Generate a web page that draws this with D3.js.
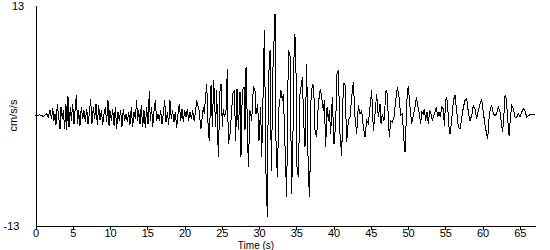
<!DOCTYPE html>
<html>
<head>
<meta charset="utf-8">
<script src="https://cdn.jsdelivr.net/npm/d3@7"></script>
<style>
  html, body { margin: 0; padding: 0; background: #fff; }
  svg { display: block; }
  text { font-family: "Liberation Sans", Arial, sans-serif; font-size: 11px; fill: #000; }
</style>
</head>
<body>
<svg id="chart" width="550" height="250"></svg>
<script>
// ---- data ----
const xTicks = [0, 5, 10, 15, 20, 25, 30, 35, 40, 45, 50, 55, 60, 65];
const xDomain = [0, 67.14];
const yDomain = [-13, 13];
const yLabels = ["13", "-13"];
const xTitle = "Time (s)";
const yTitle = "cm/s/s";

const times = [
0,0.6,1.05,1.5,1.72,1.95,2.17,2.3,2.48,2.62,2.75,2.93,3.11,3.29,3.42,3.6,3.74,3.91,4.09,4.18,
4.36,4.5,4.68,4.81,4.99,5.17,5.35,5.48,5.66,5.79,5.97,6.15,6.33,6.51,6.69,6.87,7.05,7.23,7.4,7.58,
7.76,7.94,8.12,8.3,8.48,8.66,8.84,9.02,9.19,9.37,9.55,9.73,9.87,10.0,10.18,10.36,10.54,10.72,10.89,11.07,
11.25,11.43,11.61,11.79,11.97,12.15,12.33,12.51,12.68,12.86,13.04,13.22,13.4,13.58,13.71,13.85,14.03,14.2,14.38,14.56,
14.74,14.92,15.1,15.28,15.41,15.59,15.73,15.91,16.09,16.26,16.44,16.62,16.8,16.98,17.16,17.34,17.52,17.7,17.88,18.05,
18.23,18.41,18.59,18.77,18.95,19.13,19.31,19.49,19.66,19.84,20.02,20.2,20.38,20.56,20.74,20.92,21.1,21.28,21.45,21.63,
21.95,22.21,22.53,22.65,22.98,23.2,23.33,23.56,23.74,23.92,24.18,24.32,24.54,24.77,24.9,25.08,25.2,25.35,25.57,25.75,
25.88,26.11,26.33,26.47,26.69,26.87,27.05,27.23,27.45,27.58,27.76,27.99,28.12,28.26,28.57,28.79,29.02,29.24,29.46,29.6,
29.82,30.0,30.22,30.36,30.49,30.72,30.94,31.12,31.25,31.48,31.66,31.88,32.15,32.28,32.46,32.68,32.95,33.13,33.27,33.71,
33.94,34.16,34.38,34.56,34.74,34.92,35.1,35.28,35.5,35.82,35.99,36.17,36.4,36.62,36.8,36.98,37.16,37.34,37.52,37.74,
37.96,38.23,38.41,38.63,38.77,38.95,39.13,39.31,39.44,39.62,39.84,40.07,40.29,40.47,40.65,40.87,41.1,41.32,41.54,41.77,
41.99,42.21,42.44,42.66,42.89,43.11,43.33,43.56,43.78,44.0,44.23,44.45,44.68,44.9,45.12,45.35,45.57,45.79,46.02,46.24,
46.38,46.55,46.78,47.05,47.23,47.36,47.5,47.67,47.9,48.12,48.34,48.57,48.79,49.02,49.24,49.46,49.6,49.73,49.91,50.04,
50.27,50.49,50.72,50.94,51.12,51.3,51.52,51.7,51.83,52.06,52.19,52.37,52.55,52.73,52.91,53.09,53.27,53.45,53.62,53.8,
53.98,54.16,54.34,54.52,54.74,54.88,55.06,55.19,55.33,55.51,55.64,55.86,56.09,56.31,56.53,56.76,56.98,57.2,57.43,57.65,
57.88,58.1,58.32,58.55,58.77,58.99,59.22,59.44,59.67,59.89,60.11,60.34,60.56,60.7,60.87,61.05,61.23,61.46,61.68,61.9,
62.13,62.35,62.57,62.71,62.89,63.02,63.2,63.38,63.56,63.74,63.92,64.14,64.36,64.59,64.81,65.03,65.26,65.48,65.7,65.93,
66.15,66.37,67.04
];

const accel = [
0,0.08,-0.1,0.2,-0.2,0.59,-0.39,0.91,-0.59,0.2,-1.06,1.3,-0.2,-1.58,0.99,-0.39,0.59,-1.58,1.3,-1.77,
2.25,-1.38,0.99,-0.59,1.38,-0.99,0.99,2.36,-0.99,0.59,-1.18,0.99,-0.39,0.59,-0.79,0.79,-0.99,0.2,1.97,-0.99,
0.99,-0.39,1.38,-1.06,1.18,-0.59,0.59,-1.06,0.2,0.99,-0.79,1.77,-1.18,0.59,-0.59,0.79,-1.18,0.99,-1.58,0.39,
-0.59,0.59,-1.3,0.79,-0.59,0.2,-0.79,0.39,-1.06,0.99,-1.38,0.39,-0.39,1.77,-0.59,0.59,-0.99,1.18,-1.38,0.59,
-1.46,0.99,-0.99,2.88,-0.59,0.99,-1.38,0.59,1.77,-0.59,0.2,-0.59,0.59,-0.99,0.2,1.77,-0.79,0.39,-1.06,1.77,
-0.39,0.59,-0.79,0.39,-1.46,0.2,1.38,-0.59,0.79,-0.79,0.59,-0.2,0.79,-0.59,0.39,-0.39,0.59,-0.59,0.2,1.77,
0.59,-1.58,0.99,0.2,3.74,-1.97,-2.96,3.55,-1.38,4.14,-1.38,2.96,-4.93,2.96,3.74,-1.38,0.8,-0.2,0.59,5.52,
-3.35,-2.17,0.59,2.56,2.96,-2.96,3.15,-1.77,2.76,-4.93,2.96,3.35,-1.77,5.71,-6.11,0.59,-0.59,3.35,2.96,0.2,
1.38,-2.96,0.99,-4.93,-0.2,10.05,-6.9,-12.02,3.74,7.68,-6.5,5.71,12.02,-2.96,-7.29,0.99,2.96,1.77,2.56,-9.65,
7.68,7.29,-9.26,-2.17,9.65,8.87,-6.11,-7.29,2.56,4.53,-0.59,-3.74,6.11,-7.29,-9.65,1.77,3.74,3.35,-1.77,-2.56,
1.38,3.15,2.17,0.59,1.77,-3.74,0.99,-0.59,0.59,-2.17,2.17,-3.35,-0.99,4.93,5.32,-2.17,-4.73,3.74,3.74,-3.15,
-0.59,-0.2,2.17,3.94,-0.2,-2.17,1.18,0.2,0.6,-1.38,-2.56,-0.59,-0.99,0.99,2.96,-1.77,0.2,2.56,-0.2,1.38,
-0.99,0.2,-0.59,2.96,2.56,-0.39,-2.56,-0.59,-0.79,-0.2,1.77,3.35,2.17,0,0.2,-2.96,-4.33,-1.38,2.96,3.43,
0.99,-0.99,0,0.99,2.17,1.18,0.2,-0.99,0.39,0.2,0.79,-0.59,0.39,-0.99,0.59,0.2,-0.59,0,0.39,0.99,
-0.2,0.39,-0.2,0.99,0.79,-1.18,1.77,2.17,0.99,-1.38,-2.17,-0.59,1.77,2.36,0.59,-1.38,-1.58,-0.39,0.99,1.77,
1.97,0.39,-0.59,0,1.18,0.79,-0.39,0.59,1.38,1.97,0.39,-1.18,-2.17,-2.76,-0.39,0.79,1.18,0.2,0,0.2,
0.99,0.39,-1.18,-1.97,0.39,2.36,1.97,-0.39,-2.36,-0.39,1.18,0.79,-0.2,-0.2,0.2,-0.2,0.39,0.79,0.59,-0.2,
0,0.08,0.08
];

// ---- drawing ----
const svg = d3.select("#chart");
const x = d3.scaleLinear().domain(xDomain).range([35.5, 535.7]);
const y = d3.scaleLinear().domain(yDomain).range([225.5, 5.5]);

const points = times.map((t, i) => [t, accel[i]]);

svg.append("path")
  .datum(points)
  .attr("fill", "none")
  .attr("stroke", "#000")
  .attr("stroke-width", 1)
  .attr("shape-rendering", "crispEdges")
  .attr("d", d3.line().x(d => x(d[0])).y(d => y(d[1])));

// x axis
const xAxis = svg.append("g")
  .attr("transform", `translate(0,${y(yDomain[0])})`)
  .call(d3.axisBottom(x).tickValues(xTicks).tickSize(4).tickSizeOuter(0).tickPadding(0).tickFormat(d3.format("d")));
xAxis.select(".domain").attr("stroke", "#000").attr("shape-rendering", "crispEdges");
xAxis.selectAll(".tick line").attr("stroke", "#000").attr("shape-rendering", "crispEdges");
xAxis.selectAll(".tick text")
  .attr("fill", "#000")
  .style("font-family", '"Liberation Sans", Arial, sans-serif')
  .style("font-size", "11px");

// y axis (line only)
const yAxis = svg.append("g")
  .attr("transform", `translate(${x(xDomain[0])},0)`)
  .call(d3.axisLeft(y).tickValues([]).tickSizeOuter(0));
yAxis.select(".domain").attr("stroke", "#000").attr("shape-rendering", "crispEdges");

// y end labels
svg.append("text").attr("x", 12).attr("y", y(yDomain[1]) + 4.5).text(yLabels[0]);
svg.append("text").attr("x", 3.5).attr("y", y(yDomain[0]) + 4).text(yLabels[1]);

// titles
svg.append("text")
  .attr("x", 256).attr("y", 248.5)
  .attr("text-anchor", "middle")
  .style("font-size", "10px")
  .text(xTitle);
svg.append("text")
  .attr("transform", `translate(17,${y(0)}) rotate(-90)`)
  .attr("text-anchor", "middle")
  .text(yTitle);
</script>
</body>
</html>
